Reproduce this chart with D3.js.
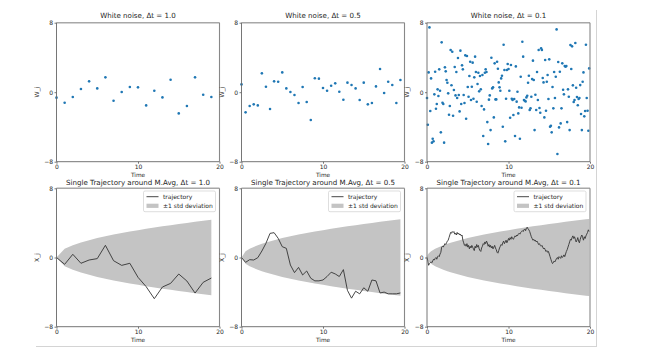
<!DOCTYPE html>
<html><head><meta charset="utf-8">
<script src="https://cdn.jsdelivr.net/npm/d3@7"></script>
<style>body{margin:0;background:#fff}svg{display:block}text{font-family:"DejaVu Sans",sans-serif;fill:#262626}</style>
</head><body><svg id="c" width="671" height="359"></svg>
<script>
const dtLabels = ["1.0", "0.5", "0.1"];
const dts = [1, 0.5, 0.1];
const xTicks = [0, 10, 20];
const yTicks = [-8, 0, 8];

const noise1 = [-0.63,-1.21,-0.56,0.36,1.25,0.44,1.71,-0.98,0.02,0.59,0.56,-1.52,0.17,-0.6,1.44,-2.44,-1.59,1.71,-0.29,-0.56];
const noise05 = [0.9,-2.32,-1.59,-1.4,-1.52,2.17,0.63,-1.94,1.25,1.21,2.28,0.44,0.02,-0.33,-1.25,0.6,-1.13,-3.2,1.6,1.56,0.48,0.17,0.75,1.02,0.06,-0.87,1.1,0.83,0.44,-0.9,1.1,-1.4,-1.25,0.67,2.67,-0.1,1.21,0.83,-1.25,1.4];
const noise01 = [-0.67,-3.74,2.28,7.46,-2.17,1.59,-5.81,-5.35,-5.66,-0.25,
2.36,-1.9,-1.36,0.33,-0.44,2.63,0.17,-4.62,5.74,-1.21,
-1.36,-5.81,2.86,2.4,1.4,1.09,-0.13,-2.59,-1.59,4.85,0.8,
4.66,-2.71,0.25,2.9,-0.37,2.32,-0.67,3.93,-0.33,-2.21,
4.78,-1.36,3.09,2.63,-0.33,-1.25,4.24,-3.05,4.16,0.6,
-0.52,1.86,3.51,-0.9,0.63,3.4,-0.75,1.71,4.09,2.32,-1.1,
0.94,2.24,0.1,1.86,0.33,-1.59,1.98,-5.05,-1.98,2.24,
2.63,2.32,-3.44,-5.97,-0.86,-0.37,-4.36,3.97,0.44,0.56,
-2.9,3.32,-0.83,-0.83,3.51,2.7,1.13,0.56,0.17,1.59,1.9,
-3.97,5.47,2.55,-5.66,-0.75,2.55,3.24,2.67,0.17,-2.94,
3.13,-0.75,-0.9,-2.63,-0.79,-5.05,2.97,-1.09,0.06,-2.44,
-1.75,-5.35,1.78,-1.79,5.81,4.09,-0.9,-0.98,-1.06,-0.6,-0.4,
1.09,1.9,-2.05,-1.86,-0.52,1.51,3.63,1.4,-4.36,-0.29,
-2.05,2.32,-0.9,4.85,-1.82,-2.36,5.05,4.85,1.63,1.13,
-2.9,3.7,-2.13,1.21,1.98,-0.79,3.78,-3.97,-3.86,-4.62,0.6,
-1.86,2.32,-0.67,1.78,7.23,-7.12,3.47,-4.05,2.36,-3.59,
-1.86,3.32,0.29,-0.25,3.01,2.93,3.01,-3.44,0.33,-0.52,
-4.36,5.43,2.67,5.28,0.79,-1.13,-0.9,5.66,0.52,-0.56,-1.5,
-0.79,-0.67,0.82,-2.51,-4.36,1.21,2.28,-2.78,-2.17,5.47,
-0.67,-2.13,-4.43,2.74];

const traj1 = [0,-0.79,0.37,-0.67,-0.29,-0.13,1.41,-0.37,-0.91,-0.67,-2.29,-3.37,-4.76,-3.41,-2.99,-1.91,-2.72,-4.11,-2.87,-2.37];
const traj05 = [0,-0.56,-0.25,-0.29,-0.02,0.75,1.64,2.79,2.87,2.22,1.25,1.06,-0.87,-1.75,-1.14,-2.02,-1.56,-2.4,-2.7,-2.7,
-2.6,-2.2,-1.7,-1.9,-2.2,-1.4,-3.8,-4.7,-3.9,-4.2,-3.5,-3.9,-2.6,-2.7,-4.1,-4.0,-4.2,-4.2,-4.2,-4.1];
const traj01 = [0,-0.4,-0.9,-0.7,-0.6,-0.5,-0.6,-0.4,-0.2,-0.3,
-0.1,0.0,-0.2,0.1,0.2,0.1,0.4,0.6,1.2,1.3,
1.2,1.4,1.6,1.5,1.7,1.9,2.0,2.3,2.6,2.9,
2.8,3.0,2.9,3.0,2.7,2.8,2.6,2.9,2.7,2.8,
2.6,2.7,2.5,2.6,2.0,1.7,1.4,1.5,1.3,1.6,
1.2,1.4,1.0,1.3,1.1,1.4,1.2,1.0,0.8,1.3,
1.1,1.5,1.2,1.4,1.0,0.8,0.7,1.1,1.3,1.6,
1.5,1.8,1.6,1.9,1.7,1.3,1.5,1.2,1.4,1.1,
1.3,1.0,1.2,1.4,1.1,0.9,0.6,0.5,0.8,1.1,
1.3,1.5,1.4,1.7,1.9,1.6,1.8,2.0,1.7,1.9,
2.2,2.0,2.3,2.1,2.4,2.2,2.1,2.3,2.5,2.4,
2.6,2.5,2.7,2.8,2.7,2.9,3.0,3.1,3.0,3.2,
3.3,3.1,3.4,3.5,3.3,3.2,3.0,2.7,2.4,2.2,
2.0,2.1,1.9,2.0,1.8,1.9,1.7,1.5,1.6,1.4,
1.3,1.4,1.2,1.0,1.1,0.9,0.7,0.8,0.6,0.7,
0.4,0.1,-0.2,-0.5,-0.7,-0.6,-0.4,-0.5,-0.3,-0.1,
0.0,-0.2,0.1,0.0,-0.1,0.2,0.0,0.1,0.3,0.1,
0.4,0.7,0.9,1.2,1.5,1.8,2.1,2.0,2.3,2.5,
2.2,2.4,2.1,1.8,2.0,2.3,1.9,1.7,2.1,2.4,
2.6,2.3,2.0,2.4,2.2,2.5,2.7,2.9,3.2,3.0];

const stdTimes = [0,0.1,0.2,0.3,0.5,0.7,1,1.5,2,2.5,3,4,5,6,7,8,9,10,11,12,13,14,15,16,17,18,19,19.5,19.9];
const stdValues = [0,0.32,0.45,0.55,0.71,0.84,1,1.22,1.41,1.58,1.73,2,2.24,2.45,2.65,2.83,3,3.16,3.32,3.46,3.61,3.74,3.87,4,4.12,4.24,4.36,4.42,4.46];

const noiseSets = [noise1, noise05, noise01];
const trajSets = [traj1, traj05, traj01];

const svg = d3.select("#c");
const lefts = [56.5, 241.5, 427];
const W = 163;
const rows = [{top: 22.7, bottom: 161.7}, {top: 188.3, bottom: 326.7}];

function axesFrame(g, x, y, ylab, rowIdx) {
  const r = rows[rowIdx];
  const [x0, x1] = x.range();
  const xa = d3.axisBottom(x).tickValues(xTicks).tickSize(2).tickPadding(1.5).tickFormat(d3.format("d"));
  const ya = d3.axisLeft(y).tickValues(yTicks).tickSize(2).tickPadding(1.5).tickFormat(d => d < 0 ? "\u2212" + Math.abs(d) : d);
  const gx = g.append("g").attr("transform", `translate(0,${r.bottom})`).call(xa);
  const gy = g.append("g").attr("transform", `translate(${x0},0)`).call(ya);
  [gx, gy].forEach(a => {
    a.select(".domain").remove();
    a.selectAll(".tick line").attr("stroke", "#555").attr("stroke-width", 0.8);
    a.selectAll(".tick text").attr("font-size", 6).attr("fill", "#262626").style("font-family", "DejaVu Sans");
  });
  g.append("line").attr("x1", x0).attr("x2", x1).attr("y1", r.top).attr("y2", r.top).attr("stroke", "#a8a8a8").attr("stroke-width", 1.4);
  g.append("line").attr("x1", x1).attr("x2", x1).attr("y1", r.top).attr("y2", r.bottom).attr("stroke", "#888").attr("stroke-width", 1.1);
  g.append("line").attr("x1", x0).attr("x2", x0).attr("y1", r.top).attr("y2", r.bottom).attr("stroke", "#666").attr("stroke-width", 0.9);
  g.append("line").attr("x1", x0).attr("x2", x1).attr("y1", r.bottom).attr("y2", r.bottom).attr("stroke", "#666").attr("stroke-width", 0.9);
  g.append("text").attr("x", (x0 + x1) / 2).attr("y", r.bottom + 15.3).attr("text-anchor", "middle").attr("font-size", 5.8).text("Time");
  g.append("text").attr("transform", `translate(${x0 - 18},${(r.top + r.bottom) / 2}) rotate(-90)`).attr("text-anchor", "middle").attr("font-size", 6).text(ylab);
}

dts.forEach((dt, i) => {
  const g = svg.append("g");
  const x = d3.scaleLinear().domain([0, 20]).range([lefts[i], lefts[i] + W]);
  const y = d3.scaleLinear().domain([-8, 8]).range([rows[0].bottom, rows[0].top]);
  const data = noiseSets[i].map((v, k) => ({t: k * dt, v}));
  g.selectAll("circle").data(data).join("circle")
    .attr("cx", d => x(d.t)).attr("cy", d => y(d.v)).attr("r", 1.3).attr("fill", "#1f77b4");
  axesFrame(g, x, y, "W_j", 0);
  g.append("text").attr("x", lefts[i] + W / 2).attr("y", 18.2).attr("text-anchor", "middle").attr("font-size", 7.1).text("White noise, \u0394t = " + dtLabels[i]);
});

dts.forEach((dt, i) => {
  const g = svg.append("g");
  const x = d3.scaleLinear().domain([0, 20]).range([lefts[i], lefts[i] + W]);
  const y = d3.scaleLinear().domain([-8, 8]).range([rows[1].bottom, rows[1].top]);
  const tmax = (trajSets[i].length - 1) * dt;
  const band = stdTimes.map((t, k) => ({t, s: stdValues[k]}))
    .filter(d => d.t <= tmax + 1e-6 && Math.abs(d.t / dt - Math.round(d.t / dt)) < 1e-6);
  g.append("path").datum(band)
    .attr("d", d3.area().x(d => x(d.t)).y0(d => y(-d.s)).y1(d => y(d.s)))
    .attr("fill", "#c4c4c4");
  const data = trajSets[i].map((v, k) => ({t: k * dt, v}));
  g.append("path").datum(data)
    .attr("d", d3.line().x(d => x(d.t)).y(d => y(d.v)))
    .attr("fill", "none").attr("stroke", "#333").attr("stroke-width", 0.9);
  axesFrame(g, x, y, "X_j", 1);
  g.append("text").attr("x", lefts[i] + W / 2).attr("y", 185).attr("text-anchor", "middle").attr("font-size", 7.1).text("Single Trajectory around M.Avg, \u0394t = " + dtLabels[i]);
  const lx = lefts[i] + W - 76, ly = rows[1].top + 2.7;
  const lg = g.append("g").attr("transform", `translate(${lx},${ly})`);
  lg.append("rect").attr("x", 0).attr("y", 0).attr("width", 72).attr("height", 20.7).attr("rx", 1.5)
    .attr("fill", "rgba(255,255,255,0.8)").attr("stroke", "#d0d0d0").attr("stroke-width", 0.7);
  lg.append("line").attr("x1", 3).attr("x2", 15).attr("y1", 5.7).attr("y2", 5.7).attr("stroke", "#333").attr("stroke-width", 0.9);
  lg.append("text").attr("x", 19.5).attr("y", 7.8).attr("font-size", 6).text("trajectory");
  lg.append("rect").attr("x", 3).attr("y", 12.7).attr("width", 12).attr("height", 4.2).attr("fill", "#c4c4c4");
  lg.append("text").attr("x", 19.5).attr("y", 16.8).attr("font-size", 6).text("\u00b11 std deviation");
});

svg.append("line").attr("x1", 596.5).attr("x2", 596.5).attr("y1", 10).attr("y2", 347).attr("stroke", "#d4d4d4").attr("stroke-width", 1);
svg.append("line").attr("x1", 36).attr("x2", 597).attr("y1", 346.5).attr("y2", 346.5).attr("stroke", "#d4d4d4").attr("stroke-width", 1);
</script></body></html>
